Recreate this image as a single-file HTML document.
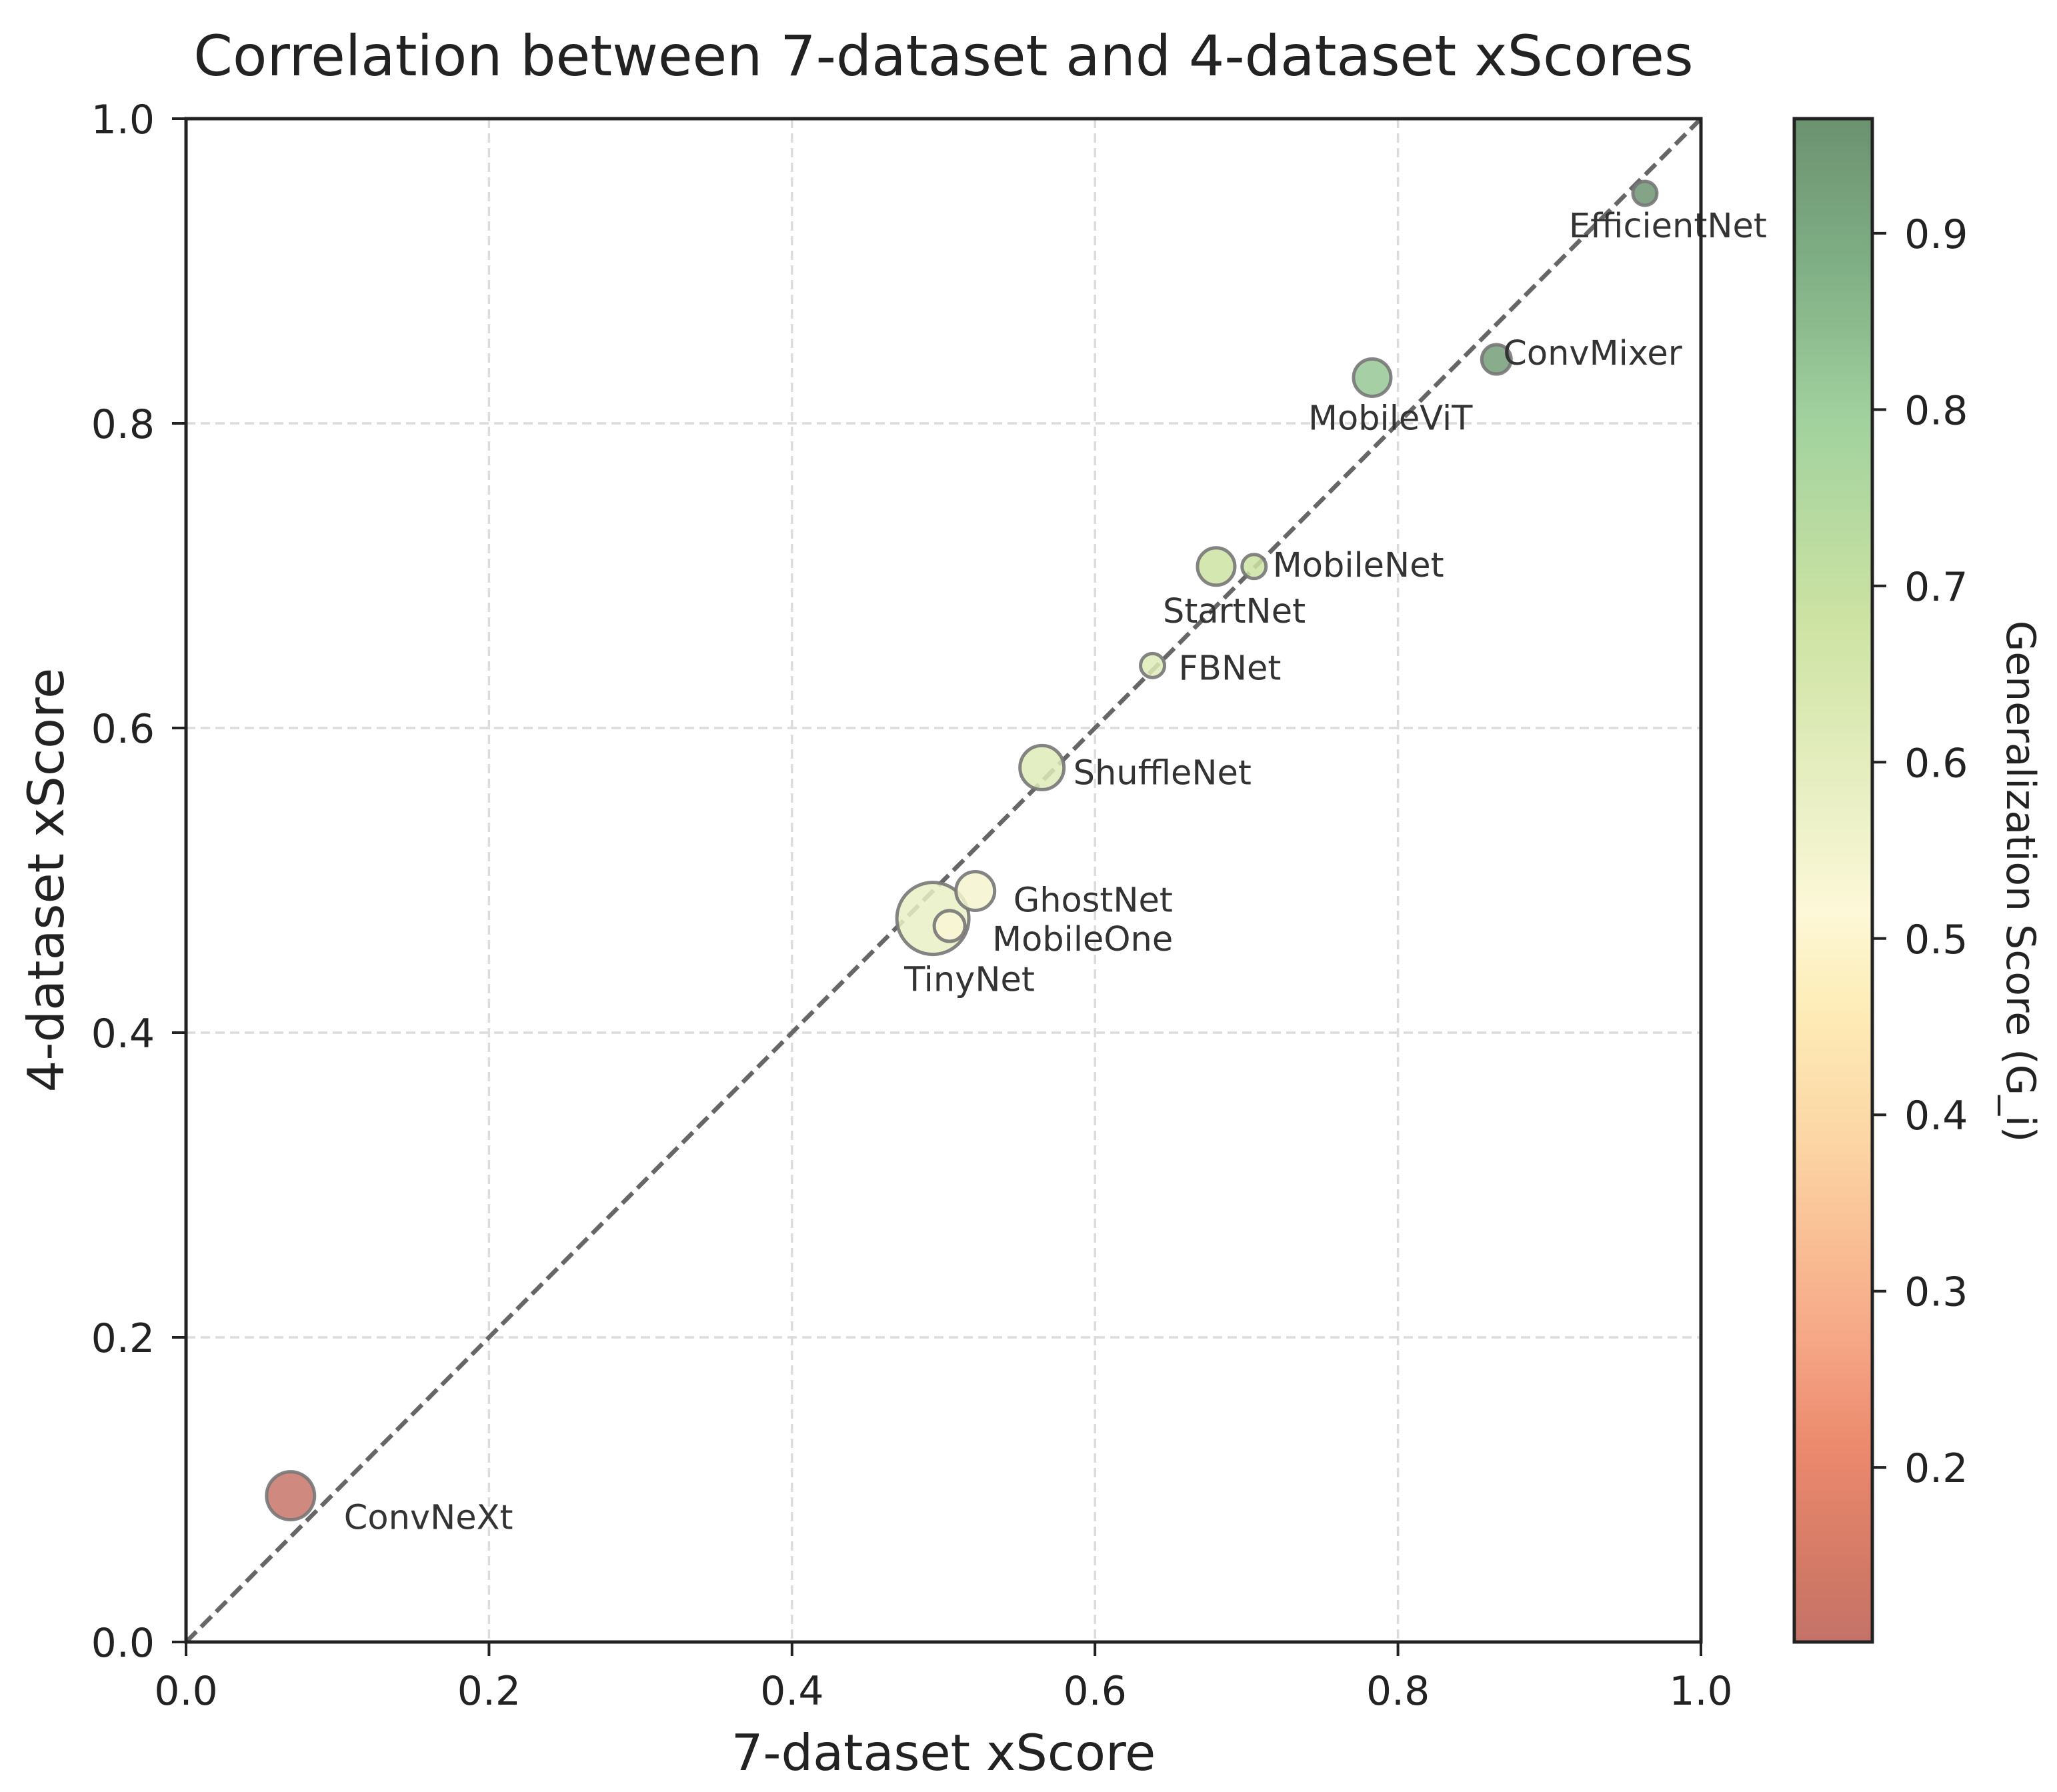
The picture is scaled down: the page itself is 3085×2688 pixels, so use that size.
<!DOCTYPE html>
<html><head><meta charset="utf-8"><style>
html,body{margin:0;padding:0;background:#fff;}
svg{display:block;font-family:"DejaVu Sans","Liberation Sans",sans-serif;}
</style></head><body>
<svg id="chart" width="3085" height="2688" viewBox="0 0 3085 2688" xmlns="http://www.w3.org/2000/svg">
<defs><linearGradient id="cbgrad" x1="0" y1="1" x2="0" y2="0"></linearGradient></defs>
<g id="grid"></g>
<g id="diag"></g>
<g id="points"></g>
<g id="labels"></g>
<g id="axes"></g>
<g id="cbar"></g>
<text x="1415" y="113" font-size="84" text-anchor="middle" fill="#222">Correlation between 7-dataset and 4-dataset xScores</text>
<text x="1415" y="2655" font-size="75" text-anchor="middle" fill="#222">7-dataset xScore</text>
<text transform="translate(95,1320) rotate(-90)" font-size="75" text-anchor="middle" fill="#222">4-dataset xScore</text>
<text transform="translate(3010,1322) rotate(90)" font-size="60" text-anchor="middle" fill="#222">Generalization Score (G_i)</text>
</svg>
<script>
const names = ["TinyNet","EfficientNet","ConvMixer","MobileViT","StartNet","MobileNet","FBNet","ShuffleNet","GhostNet","MobileOne","ConvNeXt"];
const xScore7 = [0.493,0.963,0.865,0.783,0.680,0.705,0.638,0.565,0.521,0.504,0.069];
const xScore4 = [0.475,0.951,0.842,0.830,0.706,0.706,0.641,0.574,0.493,0.470,0.096];
const genScore = [0.58,0.96,0.93,0.82,0.68,0.68,0.62,0.62,0.54,0.53,0.11];
const markerSize = [54,18,22,28,28,18,18,33,29,23,36];
const labelDx = [-43,-114,10,-96,-80,28,39,47,57,64,80];
const labelDy = [109,66,8,78,84,15,21,25,31,37,50];
const axisTicks = [0,0.2,0.4,0.6,0.8,1.0];
const axisTickLabels = ["0.0","0.2","0.4","0.6","0.8","1.0"];
const cbTicks = [0.2,0.3,0.4,0.5,0.6,0.7,0.8,0.9];
const cbTickLabels = ["0.2","0.3","0.4","0.5","0.6","0.7","0.8","0.9"];
const cbMin = 0.101, cbMax = 0.965;

const NS="http://www.w3.org/2000/svg";
const L=279,R=2551,T=178,B=2463;
const sx=v=>L+v*(R-L), sy=v=>B-v*(B-T);
const CL=2691,CR=2808;
const cy=v=>B-(v-cbMin)/(cbMax-cbMin)*(B-T);
function mk(tag,attrs,parent,txt){const e=document.createElementNS(NS,tag);for(const k in attrs)e.setAttribute(k,attrs[k]);if(txt!==undefined)e.textContent=txt;parent.appendChild(e);return e;}
const stops=[[0,"#c47268"],[0.05,"#d47a66"],[0.13,"#ec8a6e"],[0.2,"#f6a886"],[0.33,"#fcd6a4"],[0.42,"#fdedb8"],[0.48,"#fdf8d8"],[0.55,"#eaf0c5"],[0.67,"#cde3a3"],[0.8,"#a2d29e"],[0.9,"#80b085"],[1,"#6c9270"]];
function hex(h){return [1,3,5].map(i=>parseInt(h.substr(i,2),16));}
function cmap(v){let f=(v-cbMin)/(cbMax-cbMin);f=Math.max(0,Math.min(1,f));
 for(let i=1;i<stops.length;i++){if(f<=stops[i][0]){const a=stops[i-1],b=stops[i];const t=(f-a[0])/(b[0]-a[0]);const ca=hex(a[1]),cb=hex(b[1]);return "rgb("+ca.map((c,j)=>Math.round(c+(cb[j]-c)*t)).join(",")+")";}}
 return stops[stops.length-1][1];}
const grad=document.getElementById('cbgrad');
stops.forEach(s=>mk('stop',{offset:s[0],'stop-color':s[1]},grad));

const grid=document.getElementById('grid');
axisTicks.forEach((t,i)=>{
 const gx=mk('line',{x1:sx(t),x2:sx(t),y1:T,y2:B,stroke:'#dcdcdc','stroke-width':3.5,'stroke-dasharray':'14,8'},grid);
 
 
 const gy=mk('line',{x1:L,x2:R,y1:sy(t),y2:sy(t),stroke:'#dcdcdc','stroke-width':3.5,'stroke-dasharray':'14,8'},grid);
 
 
});
const diag=document.getElementById('diag');
const dl=mk('line',{x1:sx(0),y1:sy(0),x2:sx(1),y2:sy(1),stroke:'#666','stroke-width':6.5,'stroke-dasharray':'22,10'},diag);



const pts=document.getElementById('points'), lbs=document.getElementById('labels');
names.forEach((n,i)=>{
 const c=mk('circle',{cx:sx(xScore7[i]),cy:sy(xScore4[i]),r:markerSize[i],fill:cmap(genScore[i]),'fill-opacity':0.85,stroke:'#777','stroke-opacity':0.9,'stroke-width':5},pts);
 
 
 const t=mk('text',{x:sx(xScore7[i])+labelDx[i],y:sy(xScore4[i])+labelDy[i],'font-size':51,fill:'#333'},lbs,n);
 
 
});

const ax=document.getElementById('axes');
mk('rect',{x:L,y:T,width:R-L,height:B-T,fill:'none',stroke:'#222','stroke-width':5},ax);
axisTicks.forEach((t,i)=>{
 mk('line',{x1:sx(t),x2:sx(t),y1:B,y2:B+21,stroke:'#222','stroke-width':4},ax);
 const xl=mk('text',{x:sx(t),y:2557,'font-size':60,'text-anchor':'middle',fill:'#222'},ax,axisTickLabels[i]);
 
 
 mk('line',{x1:L-21,x2:L,y1:sy(t),y2:sy(t),stroke:'#222','stroke-width':4},ax);
 const yl=mk('text',{x:232,y:sy(t)+22,'font-size':60,'text-anchor':'end',fill:'#222'},ax,axisTickLabels[i]);
 
 
});

const cb=document.getElementById('cbar');
const cr=mk('rect',{x:CL,y:T,width:CR-CL,height:B-T,fill:'url(#cbgrad)',stroke:'#222','stroke-width':5},cb);


cbTicks.forEach((t,i)=>{
 mk('line',{x1:CR,x2:CR+21,y1:cy(t),y2:cy(t),stroke:'#222','stroke-width':4},cb);
 const l=mk('text',{x:2856,y:cy(t)+22,'font-size':60,fill:'#222'},cb,cbTickLabels[i]);
 
 
});
</script>
</body></html>
